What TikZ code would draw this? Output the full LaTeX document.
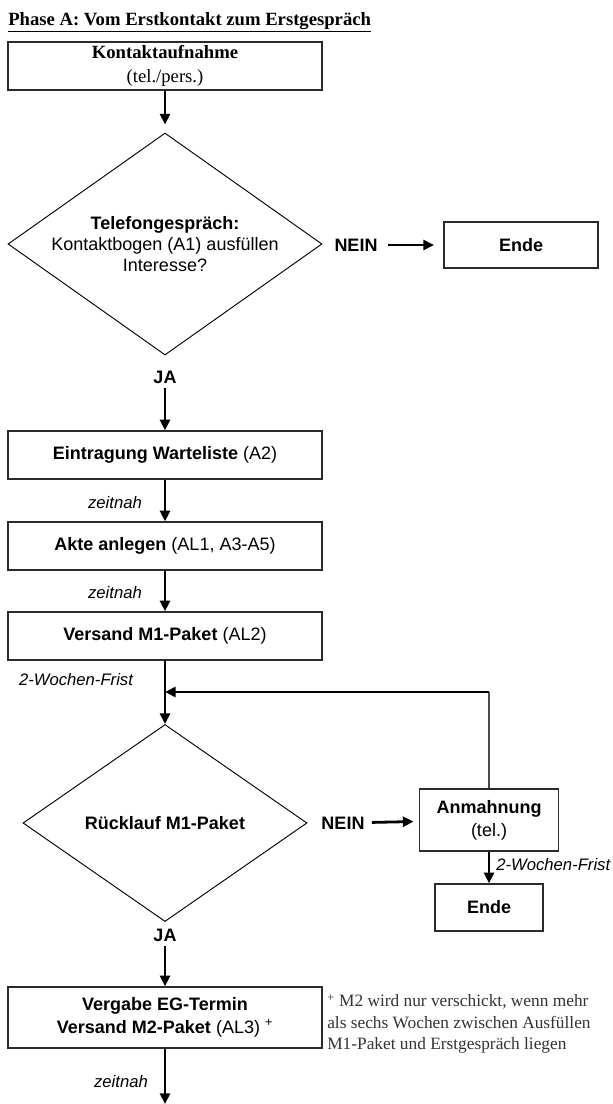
\documentclass[tikz,border=0pt]{standalone}
\usepackage{fontspec}
\setmainfont{Liberation Sans}
\newfontfamily\timesFont{Liberation Serif}
\usetikzlibrary{
    shapes.geometric, arrows.meta, positioning, calc
}
\definecolor{frameGray}{HTML}{2B2B2B}
\definecolor{loopGray}{HTML}{4A4A4A}
\tikzset{
    % Common
    arrowFlow/.style={-{Triangle[length=8pt,width=7.5pt]}, line width=2.1pt, draw=black},
    loopLine/.style={line width=1.1pt, draw=loopGray},
    % Boxes
    stepBox/.style={
        rectangle, draw=frameGray, line width=1pt, fill=white,
        minimum width=235.5pt, minimum height=36pt, inner sep=2pt,
        align=center, font=\fontsize{13.5}{17}\selectfont
    },
    decision/.style={
        diamond, draw=black, line width=0.7pt, aspect=1.4, inner sep=0pt,
        align=center, font=\fontsize{13.5}{16}\selectfont
    },
    % Labels
    answer/.style={font=\fontsize{13.5}{16}\selectfont\bfseries},
    timeNote/.style={font=\fontsize{12.5}{15}\selectfont\itshape},
    titleText/.style={font=\fontsize{14}{17}\selectfont\timesFont\bfseries, inner sep=0pt},
    footNote/.style={font=\fontsize{13}{16}\selectfont\timesFont, align=left, inner sep=0pt, text=black!80}
}

\begin{document}
\begin{tikzpicture}[x=0.75pt, y=-0.75pt]
    \useasboundingbox (0,0) rectangle (613,1104);

    % Title
    \node[titleText, anchor=base west] (title) at (8,25)
        {\underline{Phase A: Vom Erstkontakt zum Erstgespräch}};

    % Contact and phone call
    \node[stepBox, font=\fontsize{14}{18}\selectfont\timesFont] (kontakt) at (165,66)
        {\textbf{Kontaktaufnahme}\\(tel./pers.)};
    \node[decision, minimum width=235.5pt, minimum height=166.5pt] (telefon) at (165,244)
        {\textbf{Telefongespräch:}\\Kontaktbogen (A1) ausfüllen\\Interesse?};
    \node[answer] (nein1) at (356,245) {NEIN};
    \node[stepBox, minimum width=115.5pt, minimum height=34.5pt] (ende1) at (521,245) {\textbf{Ende}};
    \node[answer] (ja1) at (165,377) {JA};

    % Waiting list, file, M1
    \node[stepBox] (warteliste) at (165,455) {\textbf{Eintragung Warteliste} (A2)};
    \node[timeNote] (zeit1) at (115,503) {zeitnah};
    \node[stepBox] (akte) at (165,546) {\textbf{Akte anlegen} (AL1, A3-A5)};
    \node[timeNote] (zeit2) at (115,593) {zeitnah};
    \node[stepBox] (versandM1) at (165,636) {\textbf{Versand M1-Paket} (AL2)};
    \node[timeNote] (frist1) at (76,680) {2-Wochen-Frist};

    % Return of M1
    \node[decision, minimum width=213pt, minimum height=147.75pt] (ruecklauf) at (165,823)
        {\textbf{Rücklauf M1-Paket}};
    \node[answer] (nein2) at (343,823) {NEIN};
    \node[stepBox, minimum width=104.25pt, minimum height=46.5pt] (mahnung) at (489,820)
        {\textbf{Anmahnung}\\(tel.)};
    \node[timeNote, anchor=west, inner sep=0pt] (frist2) at (496,865) {2-Wochen-Frist};
    \node[stepBox, minimum width=81pt, minimum height=35.25pt] (ende2) at (489,907.5) {\textbf{Ende}};
    \node[answer] (ja2) at (165,935) {JA};

    % Appointment
    \node[stepBox, minimum height=45.75pt] (vergabe) at (165,1017.5)
        {\textbf{Vergabe EG-Termin}\\\textbf{Versand M2-Paket} (AL3) \textsuperscript{+}};
    \node[footNote, anchor=north west] (hinweis) at (327,994)
        {\textsuperscript{+} M2 wird nur verschickt, wenn mehr\\als sechs Wochen zwischen Ausfüllen\\M1-Paket und Erstgespräch liegen};
    \node[timeNote] (zeit3) at (121,1082) {zeitnah};

    \coordinate (trunk) at (165,692);
    \coordinate (rueck) at (489,692);
    \coordinate (weiter) at (165,1104);

    % Connectors
    \draw[arrowFlow, shorten >=6pt] (kontakt) -- (telefon);
    \draw[arrowFlow, shorten >=7pt, shorten <=4pt] (nein1) -- (ende1);
    \draw[arrowFlow] (ja1) -- (warteliste);
    \draw[arrowFlow] (warteliste) -- (akte);
    \draw[arrowFlow] (akte) -- (versandM1);
    \draw[arrowFlow] (versandM1) -- (ruecklauf);
    \draw[loopLine] (mahnung.north) -- (rueck);
    \draw[arrowFlow] (rueck) -- (trunk);
    \draw[arrowFlow, shorten >=4pt, shorten <=2pt] (nein2) -- (mahnung);
    \draw[arrowFlow] (mahnung) -- (ende2);
    \draw[arrowFlow] (ja2) -- (vergabe);
    \draw[arrowFlow] (vergabe) -- (weiter);
\end{tikzpicture}
\end{document}
